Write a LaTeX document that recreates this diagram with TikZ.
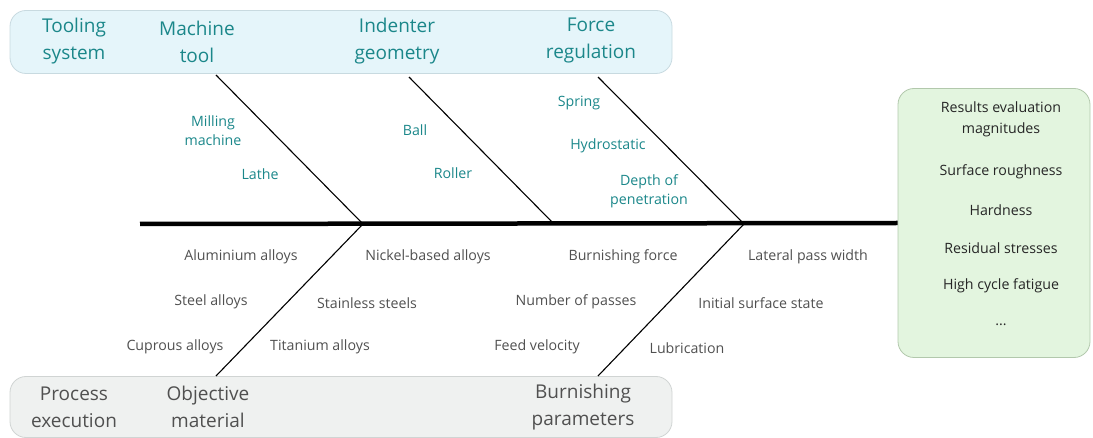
\documentclass[tikz,border=0pt]{standalone}
\usepackage{fontspec}
\setmainfont{Open Sans}
\usepackage{tikz}
\usetikzlibrary{positioning}
\definecolor{causeteal}{RGB}{27,135,138}
\definecolor{factorgray}{RGB}{80,80,80}
\definecolor{toolfill}{RGB}{229,245,250}
\definecolor{toolline}{RGB}{200,218,224}
\definecolor{procfill}{RGB}{239,241,240}
\definecolor{procline}{RGB}{208,212,211}
\definecolor{resfill}{RGB}{227,245,223}
\definecolor{resline}{RGB}{178,200,172}

\begin{document}
\begin{tikzpicture}[x=1pt, y=-1pt,
    band/.style={rectangle, rounded corners=16pt, line width=0.8pt, inner sep=0pt},
    head/.style={align=center, font=\fontsize{19}{27}\selectfont},
    cause/.style={align=center, text=causeteal, font=\fontsize{14.2}{19}\selectfont},
    factor/.style={align=center, text=factorgray, font=\fontsize{14.2}{19}\selectfont},
    result/.style={align=center, text=black!85, font=\fontsize{14.2}{21}\selectfont},
    bone/.style={draw, line width=1.1pt},
    spine/.style={draw, line width=4.5pt}
]
    \useasboundingbox (0,0) rectangle (1093,438);

    % category bands
    \node[band, draw=toolline, fill=toolfill, minimum width=662, minimum height=63] (toolband) at (341,42) {};
    \node[band, draw=procline, fill=procfill, minimum width=662, minimum height=61] (procband) at (341,407) {};
    \node[band, draw=resline, fill=resfill, minimum width=192, minimum height=269] (results) at (994,223) {};

    \node[head, text=causeteal] (tooling) at (74,41) {Tooling\\system};
    \node[head, text=causeteal] (machine) at (197,42) {Machine\\tool};
    \node[head, text=causeteal] (indenter) at (397,41) {Indenter\\geometry};
    \node[head, text=causeteal] (force) at (591,41) {Force\\regulation};
    \node[head, text=factorgray] (process) at (74,407) {Process\\execution};
    \node[head, text=factorgray] (material) at (208,407) {Objective\\material};
    \node[head, text=factorgray] (params) at (583,407) {Burnishing\\parameters};

    % spine and bones
    \coordinate (tail) at (140,224);
    \coordinate (jA) at (363,224);
    \coordinate (jB) at (554,224);
    \coordinate (jC) at (744,224);
    \coordinate (machineend) at (216,75);
    \coordinate (indenterend) at (409,77);
    \coordinate (forceend) at (598,77);
    \coordinate (materialend) at (216,376);
    \coordinate (paramsend) at (598,376);

    \draw[spine] (tail) -- (results.west);
    \draw[bone] (machineend) -- (jA);
    \draw[bone] (indenterend) -- (jB);
    \draw[bone] (forceend) -- (jC);
    \draw[bone] (materialend) -- (jA);
    \draw[bone] (paramsend) -- (jC);

    % causes
    \node[cause] (milling) at (213,131) {Milling\\machine};
    \node[cause] (lathe) at (260,174) {Lathe};
    \node[cause] (ball) at (415,130) {Ball};
    \node[cause] (roller) at (453,173) {Roller};
    \node[cause] (spring) at (579,103) {Spring};
    \node[cause] (hydro) at (608,146) {Hydrostatic};
    \node[cause] (depth) at (649,191) {Depth of\\penetration};

    \node[factor] (alu) at (241,257) {Aluminium alloys};
    \node[factor] (steel) at (211,302) {Steel alloys};
    \node[factor] (cupro) at (175,347) {Cuprous alloys};
    \node[factor] (nickel) at (428,257) {Nickel-based alloys};
    \node[factor] (stainless) at (367,303) {Stainless steels};
    \node[factor] (titan) at (320,347) {Titanium alloys};
    \node[factor] (bforce) at (623,257) {Burnishing force};
    \node[factor] (passes) at (576,302) {Number of passes};
    \node[factor] (feed) at (537,347) {Feed velocity};
    \node[factor] (lateral) at (808,257) {Lateral pass width};
    \node[factor] (initial) at (761,303) {Initial surface state};
    \node[factor] (lubric) at (687,348) {Lubrication};

    % effects
    \node[result] (restitle) at (1001,119) {Results evaluation\\magnitudes};
    \node[result] (rough) at (1001,172) {Surface roughness};
    \node[result] (hard) at (1001,210) {Hardness};
    \node[result] (resid) at (1001,248) {Residual stresses};
    \node[result] (fatigue) at (1001,286) {High cycle fatigue};
    \node[result] (more) at (1001,325) {...};
\end{tikzpicture}
\end{document}
